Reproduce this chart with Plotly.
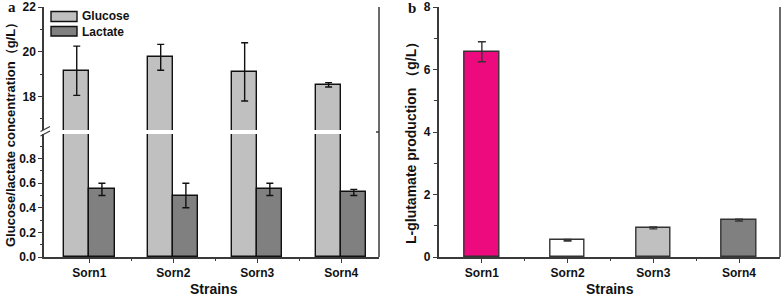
import plotly.graph_objects as go

W, H = 783, 298

strains = ["Sorn1", "Sorn2", "Sorn3", "Sorn4"]
glucose = [19.15, 19.75, 19.10, 18.52]
glucose_err = [1.10, 0.58, 1.30, 0.10]
lactate = [0.55, 0.50, 0.55, 0.525]
lactate_err = [0.05, 0.10, 0.05, 0.025]
glutamate = [6.57, 0.535, 0.93, 1.18]
glutamate_err = [0.32, 0.025, 0.03, 0.03]
glut_colors = ["#EC0A7E", "#FFFFFF", "#C0C0C0", "#808080"]

lower_ticks = [0.0, 0.2, 0.4, 0.6, 0.8]
upper_ticks = [18, 20, 22]
right_ticks = [0, 2, 4, 6, 8]

pos = [i + 1 for i in range(len(strains))]
mids = [p + 0.5 for p in pos[:-1]]


def px(x):
    return x / W


def py(y):
    return 1 - y / H


AX = "#3a3a3a"
FONT = "Liberation Sans, Arial, sans-serif"
GLU_C = "#C0C0C0"
LAC_C = "#808080"

fig = go.Figure()

bar_line = dict(color="#111111", width=1.4)
err_l = dict(type="data", color="#111111", thickness=1.4, width=3.5)

# Glucose on lower segment (clipped)
fig.add_trace(go.Bar(x=pos, y=glucose, width=0.3, offset=-0.3,
                     marker=dict(color=GLU_C, line=bar_line),
                     xaxis="x", yaxis="y", showlegend=False))
# Glucose on upper segment
fig.add_trace(go.Bar(x=pos, y=glucose, width=0.3, offset=-0.3,
                     marker=dict(color=GLU_C, line=bar_line),
                     error_y=dict(array=glucose_err, **err_l),
                     xaxis="x", yaxis="y2", showlegend=False))
# Lactate
fig.add_trace(go.Bar(x=pos, y=lactate, width=0.3, offset=0.0,
                     marker=dict(color=LAC_C, line=bar_line),
                     error_y=dict(array=lactate_err, **err_l),
                     xaxis="x", yaxis="y", showlegend=False))
# Glutamate
fig.add_trace(go.Bar(x=pos, y=glutamate, width=0.4,
                     marker=dict(color=glut_colors, line=dict(color="#333333", width=1.4)),
                     error_y=dict(type="data", array=glutamate_err, color="#333333",
                                  thickness=1.4, width=4),
                     xaxis="x2", yaxis="y3", showlegend=False))

tickfont = dict(family=FONT, size=12, color="#111111", weight="bold")

common_y = dict(showgrid=False, zeroline=False, showline=True, linecolor=AX, linewidth=1.5,
                ticks="outside", ticklen=4, tickwidth=1.3, tickcolor=AX,
                tickfont=tickfont, automargin=False, fixedrange=True)
common_x = dict(showgrid=False, zeroline=False, showline=True, linecolor=AX, linewidth=1.5,
                ticks="outside", ticklen=4, tickwidth=1.3, tickcolor=AX,
                tickfont=tickfont, automargin=False, fixedrange=True)

xl_dom = [px(44), px(379)]
xr_dom = [px(438.5), px(780)]
lower_dom = [py(257), py(134)]
upper_dom = [py(130), py(7)]
full_dom = [py(257), py(7)]

xrange_l = [0.46, 4.45]
xrange_r = [0.494, 4.478]

fig.update_layout(
    width=W, height=H,
    margin=dict(l=0, r=0, t=0, b=0),
    paper_bgcolor="white", plot_bgcolor="white",
    bargap=0,
    xaxis=dict(domain=xl_dom, range=xrange_l, anchor="y",
               tickmode="array", tickvals=pos, ticktext=strains,
               minor=dict(tickvals=mids, ticks="outside", ticklen=2.5, tickwidth=1.2, tickcolor=AX),
               **common_x),
    xaxis3=dict(domain=xl_dom, range=xrange_l, anchor="y2", overlaying="x", side="top",
                tickmode="array", tickvals=[2.5], ticks="inside", ticklen=3, tickwidth=1.3,
                tickcolor=AX, showticklabels=False, showline=True, linecolor=AX, linewidth=1.5,
                showgrid=False, zeroline=False, automargin=False),
    yaxis=dict(domain=lower_dom, range=[0, 1.0], anchor="x",
               tickmode="array", tickvals=lower_ticks, ticktext=[f"{v:.1f}" for v in lower_ticks],
               minor=dict(tickvals=[0.1, 0.3, 0.5, 0.7, 0.9], ticks="outside", ticklen=2.5,
                          tickwidth=1.2, tickcolor=AX),
               **common_y),
    yaxis2=dict(domain=upper_dom, range=[16.5, 22], anchor="x",
                tickmode="array", tickvals=upper_ticks, ticktext=[str(v) for v in upper_ticks],
                minor=dict(tickvals=[17, 19, 21], ticks="outside", ticklen=2.5,
                           tickwidth=1.2, tickcolor=AX),
                **common_y),
    xaxis2=dict(domain=xr_dom, range=xrange_r, anchor="y3",
                tickmode="array", tickvals=pos, ticktext=strains,
                minor=dict(tickvals=mids, ticks="outside", ticklen=2.5, tickwidth=1.2, tickcolor=AX),
                **common_x),
    xaxis4=dict(domain=xr_dom, range=xrange_r, anchor="y3", overlaying="x2", side="top",
                tickmode="array", tickvals=[2.5], ticks="inside", ticklen=3, tickwidth=1.3,
                tickcolor=AX, showticklabels=False, showline=True, linecolor=AX, linewidth=1.5,
                showgrid=False, zeroline=False, automargin=False),
    yaxis3=dict(domain=full_dom, range=[0, 8], anchor="x2",
                tickmode="array", tickvals=right_ticks, ticktext=[str(v) for v in right_ticks],
                minor=dict(tickvals=[1, 3, 5, 7], ticks="outside", ticklen=2.5,
                           tickwidth=1.2, tickcolor=AX),
                **common_y),
)

shapes = []
# right frame lines
shapes.append(dict(type="line", xref="paper", yref="paper", x0=px(379), x1=px(379),
                   y0=py(257), y1=py(7), line=dict(color=AX, width=1.5)))
shapes.append(dict(type="line", xref="paper", yref="paper", x0=px(780), x1=px(780),
                   y0=py(257), y1=py(7), line=dict(color=AX, width=1.5)))
# small break tick on right frame
shapes.append(dict(type="line", xref="paper", yref="paper", x0=px(376), x1=px(379),
                   y0=py(132), y1=py(132), line=dict(color=AX, width=1.5)))
# break slashes on the left axis
shapes.append(dict(type="line", xref="paper", yref="paper", x0=px(40.5), x1=px(50),
                   y0=py(131.5), y1=py(126.5), line=dict(color=AX, width=1.2)))
shapes.append(dict(type="line", xref="paper", yref="paper", x0=px(40.5), x1=px(50),
                   y0=py(136), y1=py(131), line=dict(color=AX, width=1.2)))
# legend boxes
shapes.append(dict(type="rect", xref="paper", yref="paper", x0=px(51), x1=px(77),
                   y0=py(21.5), y1=py(11.5), fillcolor=GLU_C, line=dict(color="#111111", width=1.4)))
shapes.append(dict(type="rect", xref="paper", yref="paper", x0=px(51), x1=px(77),
                   y0=py(36), y1=py(26.5), fillcolor=LAC_C, line=dict(color="#111111", width=1.4)))
fig.update_layout(shapes=shapes)

ann = []
ann.append(dict(text="Glucose", xref="paper", yref="paper", x=px(80), y=py(16.5),
                xanchor="left", yanchor="middle", showarrow=False,
                font=dict(family=FONT, size=12, color="#111111", weight="bold")))
ann.append(dict(text="Lactate", xref="paper", yref="paper", x=px(80), y=py(31.5),
                xanchor="left", yanchor="middle", showarrow=False,
                font=dict(family=FONT, size=12, color="#111111", weight="bold")))
ann.append(dict(text="Glucose/lactate concentration（g/L）", xref="paper", yref="paper",
                x=px(10), y=py(132), textangle=-90, xanchor="center", yanchor="middle",
                showarrow=False, font=dict(family=FONT, size=13, color="#111111", weight="bold")))
ann.append(dict(text="L-glutamate production （g/L）", xref="paper", yref="paper",
                x=px(411), y=py(140), textangle=-90, xanchor="center", yanchor="middle",
                showarrow=False, font=dict(family=FONT, size=14, color="#111111", weight="bold")))
ann.append(dict(text="Strains", xref="paper", yref="paper", x=px(214), y=py(289),
                xanchor="center", yanchor="middle", showarrow=False,
                font=dict(family=FONT, size=14, color="#111111", weight="bold")))
ann.append(dict(text="Strains", xref="paper", yref="paper", x=px(610), y=py(289),
                xanchor="center", yanchor="middle", showarrow=False,
                font=dict(family=FONT, size=14, color="#111111", weight="bold")))
ann.append(dict(text="a", xref="paper", yref="paper", x=px(12), y=py(7),
                xanchor="center", yanchor="middle", showarrow=False,
                font=dict(family="Liberation Serif, Times New Roman, serif", size=15,
                          color="#111111", weight="bold")))
ann.append(dict(text="b", xref="paper", yref="paper", x=px(412), y=py(8),
                xanchor="center", yanchor="middle", showarrow=False,
                font=dict(family="Liberation Serif, Times New Roman, serif", size=15,
                          color="#111111", weight="bold")))
fig.update_layout(annotations=ann)

fig.write_html("out.html",
               config={"displayModeBar": False},
               post_script="document.body.style.margin='0';document.body.style.padding='0';"
                           "document.documentElement.style.overflow='hidden';")
